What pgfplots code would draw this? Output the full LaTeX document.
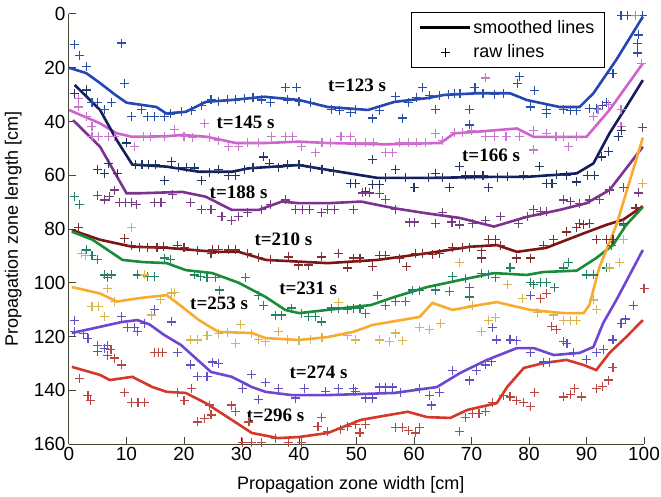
\documentclass[border=0pt]{standalone}
\usepackage{pgfplots}
\pgfplotsset{compat=1.18}
\usepackage{fontspec}
\setmainfont{Liberation Sans}
\newfontfamily\annfont{Liberation Serif}
\definecolor{axcol}{RGB}{70,70,55}
\definecolor{cA}{RGB}{35,70,180}
\definecolor{cB}{RGB}{205,100,205}
\definecolor{cC}{RGB}{20,30,95}
\definecolor{cD}{RGB}{125,50,145}
\definecolor{cE}{RGB}{125,20,20}
\definecolor{cF}{RGB}{25,140,55}
\definecolor{cG}{RGB}{250,170,45}
\definecolor{cH}{RGB}{110,70,210}
\definecolor{cI}{RGB}{215,55,40}
\definecolor{rA}{RGB}{40,80,170}
\definecolor{rB}{RGB}{200,120,200}
\definecolor{rC}{RGB}{30,55,100}
\definecolor{rD}{RGB}{120,60,130}
\definecolor{rE}{RGB}{130,45,45}
\definecolor{rF}{RGB}{35,130,100}
\definecolor{rG}{RGB}{215,180,80}
\definecolor{rH}{RGB}{95,80,195}
\definecolor{rI}{RGB}{185,70,65}
\pgfplotsset{
  mylinelegend/.style={legend image code/.code={\draw[##1] (0cm,0cm) -- (1.75cm,0cm);}},
  mymarklegend/.style={legend image code/.code={\draw[mark repeat=2,mark phase=2,##1] plot coordinates {(0cm,0cm) (0.875cm,0cm) (1.75cm,0cm)};}},
}
\begin{document}
\begin{tikzpicture}
\begin{axis}[
  scale only axis, width=575pt, height=430pt,
  xmin=0, xmax=100, ymin=0, ymax=160, y dir=reverse,
  axis x line*=bottom, axis y line*=left,
  axis line style={draw=axcol, line width=1pt},
  xtick={0,10,...,100}, ytick={0,20,...,160},
  tick align=inside, major tick length=7pt,
  tick style={draw=axcol, line width=1pt},
  ticklabel style={font=\fontsize{19}{22}\selectfont},
  /pgf/number format/assume math mode=true,
  xlabel={Propagation zone width [cm]},
  ylabel={Propagation zone length [cm]},
  label style={font=\fontsize{18}{21}\selectfont},
  xlabel style={at={(axis description cs:0.49,-0.095)}, anchor=center},
  ylabel style={at={(axis description cs:-0.097,0.5)}, anchor=center},
  raw/.style={only marks, mark=+, mark size=4.5pt, mark options={line width=1.1pt}, forget plot},
  sline/.style={line width=2.6pt, no marks, forget plot},
  legend style={at={(rel axis cs:0.932,1.005)}, anchor=north east, draw=black, line width=0.8pt,
    fill=white, font=\fontsize{18}{21}\selectfont, inner xsep=8pt, inner ysep=6pt, row sep=6pt,
    cells={anchor=west}},
]
% ---------- raw points ----------
\addplot[raw, color=rA] coordinates {(1,11.5) (1.9,15.3) (3.1,19.7) (9.2,10.8) (3,28) (9.7,25.7) (4,33) (4.9,33) (6.2,35.7) (7.4,33) (10.9,38.3) (12.6,35.7) (13.7,38.3) (14.9,38.3) (16.6,38.3) (17.7,37.2) (19.5,36.4) (21.3,36) (23,34) (24.7,32) (26,32.5) (27.5,32) (29,32) (30.5,31.5) (32,31) (33.5,32) (35,33) (37.6,27.5) (39.6,27.5) (38,32) (40,32.5) (42,33) (45.6,35.7) (47,36) (49,36.8) (49.9,35.7) (52.8,38.7) (54,36) (56.8,30.8) (58,38.7) (59,33) (60.5,31) (61.5,27.5) (62.7,30.4) (63.7,35.7) (64.5,30.4) (66,30) (67,29.5) (68,29.5) (69.6,35.7) (69.6,41.3) (70.6,27.2) (72,29.5) (74,30) (75.5,29.5) (78.4,23.4) (78,25.7) (81,28.3) (80.2,34.6) (83,35.7) (83,37) (86,35.7) (87.2,36) (88.3,36) (90.5,35) (91.7,35) (92.8,34) (93.4,33) (94.6,22) (98.9,14.5) (98.9,11) (99.1,7.8) (96,0.4) (97.2,0.4) (99.7,0.4)};
\addplot[raw, color=rB] coordinates {(1.6,31.6) (1.6,34.6) (3,38) (4,42) (4,45.7) (5.1,45.7) (6.8,45.7) (7.9,45.7) (11.4,49.4) (13,45.7) (14.2,45.7) (16.6,45.7) (18.3,43) (20,45.7) (21.5,46) (23.5,40.6) (24.4,46) (26,47) (27.8,49.4) (29.5,49.4) (31,48) (33,48) (35.2,45.7) (37.6,45.7) (38.8,45.7) (40.4,49.4) (42.8,51.7) (44,48) (45.5,48) (47.3,45.7) (49,45.7) (49.9,48) (51.5,48) (53,48) (55.1,51.7) (56.3,51.7) (57.5,48) (59,48) (60.5,48) (62,48) (63.7,44.3) (65,47) (67,44) (68.5,44) (70,43.5) (72.4,45.7) (74,45.7) (76,45.7) (78.4,45.7) (80.8,43.2) (80.8,50.6) (83,44.4) (84.7,45.7) (86,45.7) (86.9,49.4) (88.3,45.7) (91.2,38.3) (92,35.7) (93.8,33.8) (96,42) (96,35.7) (99.5,18.4) (98.5,0.4) (72.4,23.8)};
\addplot[raw, color=rC] coordinates {(1,29.5) (3.1,28.3) (5,58) (6.2,59.3) (6.8,55.6) (8.5,59.3) (10,48) (11.5,56) (12.7,56) (13.9,56) (15,56) (16.6,61.8) (17.8,55) (19,57) (20.5,57) (21.8,57.3) (23,61.8) (24.4,59) (26,58) (27.8,60) (29,60) (30.5,58) (32,57) (33.9,53.2) (34.8,55.5) (36.5,57) (38,56) (40,56) (42,57) (44,58) (46,58.5) (49,63) (49.9,63) (51.6,66.2) (52.8,54.3) (52.8,63.5) (54,63.5) (55.1,61) (56.8,58) (58.5,61) (60,64.7) (62.5,61) (63.7,59.3) (65,61) (66.1,64.7) (67.9,56.9) (69,60) (70.5,60) (72,60) (73,64.7) (74.5,61) (76.2,60.6) (79,60) (81.9,56.9) (83,63) (84,63) (84.8,59.6) (86.5,60) (88.3,62.5) (90.2,60) (91.4,60) (92.6,53.2) (93.8,51) (95.5,45.7) (96.1,43.5)};
\addplot[raw, color=rD] coordinates {(5,67.4) (6.2,69.2) (7,68) (7.9,65.5) (8.8,70) (9.8,70) (10.9,70) (11.7,71) (14.9,70) (16,70) (18,67) (21.2,70) (23,72.9) (24.7,72.9) (26.6,75.5) (28.3,76.7) (29.5,75.5) (31,74) (33.5,72.9) (35,71) (37.6,69.2) (39.4,72.9) (40.6,72.9) (41.8,72.9) (43.9,74) (45,72.9) (46.2,72.9) (49.4,72.9) (51.1,66.6) (52.3,66.6) (54,66.8) (55.1,68.9) (56.8,72.9) (59.2,77.4) (60.1,77.4) (63.8,77.8) (64.9,73.7) (66.6,77.4) (67.9,78.5) (70.2,77.8) (72.5,77) (75,75.5) (78.1,77.8) (79.8,75.5) (80.8,72.9) (82,73.4) (83,73.4) (86,69.2) (87.2,69.7) (88.8,70.4) (90.5,69.2) (92.2,68.9) (94,65.5) (96.4,64.7) (99.1,66.6) (99.8,42.4)};
\addplot[raw, color=rE] coordinates {(1.6,79.3) (9.7,83.4) (10.9,86) (12.2,87) (13.6,87) (15.3,87) (16.5,86.5) (18.8,86) (20,87) (22.3,88) (24.7,89) (24.9,87.8) (26,87.5) (27.8,87.8) (29,87.8) (31,89) (33,90.5) (35,91.5) (38.2,90.4) (39.9,93.4) (41.6,93.4) (43.9,90.4) (46.8,89) (48.5,94.5) (49.4,90.8) (50.6,90.8) (52.8,94.1) (54,90) (55.1,90) (57.5,90.8) (58.7,94) (60.3,89) (61.5,89) (63.2,89.5) (64.4,89) (66.7,87) (68.4,87) (69.6,87) (71.8,90.8) (71.8,88) (73,84) (74.2,84) (75,86) (77.9,90.8) (80.2,90.8) (82.5,86) (84.3,84) (86.5,81.1) (88.3,79.6) (88.8,77.8) (89.5,78.4) (90.5,77.8) (91.7,84) (93.4,84) (94.6,84) (96.4,77.8) (98.6,72.2)};
\addplot[raw, color=rF] coordinates {(1,68) (1.9,71) (3.1,87.8) (4,89.7) (5,91.5) (6.2,97.1) (6.7,98) (7.4,97.1) (11.9,97.1) (13.6,97.8) (14.8,97.8) (16.6,90.8) (17.7,91.5) (21.8,97.1) (22.9,97.8) (24,98) (25.5,98.2) (26.1,102.7) (30.7,98.2) (33,104.6) (33.9,108.3) (35.9,112) (37,112) (38.7,109.4) (40.4,111.5) (41.6,112.7) (42.8,112.7) (43.9,114.6) (45.6,109.4) (46.8,109.4) (48.5,110) (49.4,109.4) (50.6,109.4) (51.6,111.3) (53.7,104.6) (55.1,108.3) (56.8,107.1) (58.5,107.1) (59.8,102.7) (61,103) (63.7,102.7) (66.2,103.4) (66.7,97.8) (69,98.5) (69.6,101.6) (69.6,105.3) (71.8,96.4) (73,97) (74.2,98) (76.7,94.5) (80.2,99.8) (80.8,100.8) (82,99.8) (83,99.8) (84.5,101.6) (86,94.5) (86.9,92.3) (90,97.1) (91.2,97.1) (93.4,94.5) (94.3,86) (96.4,78.5)};
\addplot[raw, color=rG] coordinates {(2.2,89) (2.8,90) (10.9,79.3) (4,109) (5.1,109) (6.2,112.7) (6.7,102) (7.9,107.1) (13.1,97.1) (14.3,112) (15.9,106.3) (17.8,103.8) (18.4,103.5) (21.2,121.3) (22.4,121.3) (24,119.5) (26,119) (27.5,118.5) (29,122.5) (29.9,115.7) (31.8,119) (33,121) (34.2,122) (36.5,118) (38,121) (40,121.5) (42,121) (44,120.5) (46.8,107.2) (48.5,119.5) (49.9,121.3) (54,121.3) (55.8,122) (56.8,118.7) (58,121.5) (61,116.8) (62.7,117.5) (64.6,115) (67.9,92.3) (70.1,108.3) (71.8,118.3) (73,113.9) (74.2,112.8) (76.2,100.8) (78.8,105.7) (81.5,111) (84.3,112) (86,114) (87.2,114) (88.3,114) (91.2,106.4) (91.8,110) (94,94.5) (95.7,92.3) (96.5,84) (99.8,63)};
\addplot[raw, color=rH] coordinates {(1,113.9) (1,118) (2.5,119) (3.3,120.6) (5,123.2) (5,125.6) (6.1,124.5) (6.7,127) (9.2,112.7) (10.2,116.8) (11.4,116.8) (11.9,118.3) (13.1,115) (14.9,110.1) (17.8,114.6) (18.8,125.8) (21.2,130.6) (22.3,135) (24,135) (24.9,129.5) (26,130) (30.1,139.2) (31.8,134.3) (33,143.4) (34.2,137) (36.4,139.2) (39.4,142.9) (41,139.2) (44.6,140.6) (46.8,139.2) (49.4,139.2) (49.9,140.6) (51.6,142.9) (52.8,142.9) (54,138.8) (55.1,138.8) (56.3,138.8) (57.6,141) (61,139.2) (62.7,141.8) (63,145.5) (64.4,141) (66.7,132.5) (69.6,136.2) (70.8,132.5) (72.4,130.6) (73.5,129.4) (73.6,116.8) (74.3,121.3) (76.7,121.3) (77.9,121.5) (80.2,125.8) (82.5,129.5) (83.6,129.5) (86,122) (86.6,122.5) (87.7,125.8) (90,128.7) (91.7,125.8) (92.9,125) (94.6,121.3) (96,115) (96.8,113.5) (98.1,108.3) (80.2,104.6)};
\addplot[raw, color=rI] coordinates {(1.9,135.5) (3.3,141.8) (3.8,143.7) (6.7,123.2) (7.3,125) (7.9,128) (9.2,130.6) (9.7,141) (10.9,144.4) (12,144.6) (13.1,144.4) (14.9,125.8) (15.6,125.8) (16.3,125.8) (18.8,141) (20,143.7) (21.3,139.5) (22.3,151.8) (23.5,150.5) (24.7,149.2) (24.4,145.5) (28.3,145.5) (29,148) (31.3,151.8) (30.1,159.3) (31.8,159.3) (33.5,159.3) (35.9,157.8) (38.2,159.3) (40.4,159.3) (43.9,150.3) (43.3,153.5) (45,155.5) (47.2,154.5) (48.5,153.5) (49.9,152.9) (51.6,152.9) (50.6,155.9) (56.8,153.7) (58,153.7) (59.1,155) (60.3,155.9) (61,153.7) (67.9,155.5) (68.9,150.3) (70.1,148.5) (71.3,148.5) (72.4,148) (73.6,144.4) (75.6,141.8) (76.7,142.5) (77.9,143.7) (79.1,144.7) (80.2,146.2) (81,141) (82,106) (83,104) (83.9,116.4) (84.8,117.5) (86,142.5) (87.2,141.5) (87.9,139.2) (89.1,142.5) (91.7,139.2) (92.8,138.5) (93.8,136.2) (94.6,131.7) (100,102)};
% ---------- smoothed lines ----------
\addplot[sline, color=cA] coordinates {(0,20) (3,22) (5.4,25.7) (8,30) (10,33) (15.2,34.6) (16.9,37) (20.3,36.4) (23.8,32.7) (28.3,32) (34,30.8) (40,32) (45,34.6) (52,35.7) (56.6,32.7) (62.3,31.3) (65.3,30.1) (71,29.5) (76.7,29.5) (79.6,32) (85.3,34.6) (88.8,34.6) (91.2,29.5) (95.2,17) (99.8,1)};
\addplot[sline, color=cB] coordinates {(0,35.7) (5.4,40.7) (8.3,44.4) (11,45.7) (17,45.5) (19.7,45) (24,45.7) (29,48) (34.2,48) (40,47.5) (45,48) (55,48.5) (64.6,48) (67,44.4) (71,43.8) (77.9,42.6) (80.8,45.7) (90,45.7) (94,35.7) (99.8,18.4)};
\addplot[sline, color=cC] coordinates {(1,26.4) (5.4,35.7) (8.3,46.9) (11,56) (17,56.8) (22.6,58.7) (28.3,58.7) (31.3,57.4) (35,56.9) (40,56.2) (45,58) (53.7,61) (62.3,61) (73.9,60.6) (79.6,60.6) (88.3,59.3) (91.2,55.6) (94,44.4) (96.9,34.6) (99.8,24.6)};
\addplot[sline, color=cD] coordinates {(0.7,39.5) (5.4,49.4) (10,66.7) (12.3,66.7) (19.7,66.2) (23.8,68) (28.3,72.9) (33,72.9) (37,69.8) (40,70.4) (45,70.4) (50.8,69.8) (56.6,72.3) (62.3,74.2) (68,75.9) (73.9,79.1) (79.6,75.5) (85.3,72.9) (90,70.4) (94,65.5) (99.8,49.4)};
\addplot[sline, color=cE] coordinates {(0.5,80.4) (5.4,84) (11,86.6) (17,87) (25.5,88.5) (29.5,88.5) (34.2,91.5) (45,92.7) (53.7,91.5) (62.3,89) (69.8,86.6) (74.4,86) (77.9,88.5) (83,87) (88.8,82.2) (93.4,78.5) (96.4,76.5) (99.8,71.5)};
\addplot[sline, color=cF] coordinates {(0.5,81) (4.1,84) (9.3,91.5) (12.8,92.3) (17,92.7) (20.3,95.3) (24.9,96.4) (29.5,100) (34.2,105.3) (37.6,110.1) (40,111.3) (45,110.1) (52.5,108.3) (56.6,105.3) (62.3,101.6) (68,99) (73.9,96.4) (79.6,97.1) (82.5,96) (88.3,95.5) (91.7,90.8) (94.6,86) (96.9,78.5) (99.8,71.8)};
\addplot[sline, color=cG] coordinates {(0.5,101.6) (5.4,104) (8.3,107) (12.3,105.7) (17,104.6) (19.7,109) (22.6,113.9) (26,118.3) (31.8,118.7) (34.2,120.6) (40,121.3) (45,120.2) (49.4,118.3) (52.8,115.7) (61,112.7) (63.2,107.5) (66.7,110.1) (71.3,108.3) (74.4,107.2) (80.2,110.1) (86,111.3) (89.5,111.3) (90.5,108.3) (92.2,94.5) (95.2,78.5) (99.8,46)};
\addplot[sline, color=cH] coordinates {(0.5,118.7) (5.4,116.4) (9.2,114.6) (11.9,113.9) (14,115.5) (16.6,119.5) (19.5,123.2) (24.7,133.2) (28.3,135) (31.8,138.8) (34.2,140.6) (38.7,141.8) (45,141.8) (56.6,141) (64,138.8) (68,133.6) (72.7,128.7) (77.9,124.3) (80.8,124.3) (84.3,126.9) (88.8,126.1) (91.2,123.9) (92.9,115) (95.2,106.4) (99.8,87.8)};
\addplot[sline, color=cI] coordinates {(0.5,131.3) (5.4,134.3) (7.1,136.2) (11,135) (14.5,138.8) (17,140.6) (20.3,141) (23.8,144.8) (28.3,151) (31.8,155.9) (36.4,157.8) (40,157.4) (45,155.9) (50.8,151) (58.9,148) (62.3,150) (66.3,150.3) (69.3,147.3) (74.4,144.8) (76.2,138.8) (79.1,131.7) (82.5,129.9) (86.5,128.7) (89.5,130.6) (91.7,132.5) (94,126.1) (96.9,120.2) (99.8,113.9)};
% ---------- legend ----------
\addlegendimage{black, line width=2.6pt, mylinelegend}
\addlegendentry{smoothed lines}
\addlegendimage{black, only marks, mark=+, mark size=4.5pt, mark options={line width=1.1pt}, mymarklegend}
\addlegendentry{raw lines}
% ---------- annotations ----------
\begin{scope}[every node/.style={font=\annfont\bfseries\fontsize{19}{21}\selectfont}]
\node at (axis cs:50.1,26.4) {t=123 s};
\node at (axis cs:30.7,40.2) {t=145 s};
\node at (axis cs:73.4,52.5) {t=166 s};
\node at (axis cs:29.5,66.2) {t=188 s};
\node at (axis cs:37.3,84) {t=210 s};
\node at (axis cs:41.6,102) {t=231 s};
\node at (axis cs:26.1,107.5) {t=253 s};
\node at (axis cs:43.4,133.2) {t=274 s};
\node at (axis cs:35.9,149.2) {t=296 s};
\end{scope}
\end{axis}
\pgfresetboundingbox
\path[use as bounding box] ([xshift=-69pt,yshift=-53pt]current axis.south west) rectangle ([xshift=17pt,yshift=14pt]current axis.north east);
\end{tikzpicture}
\end{document}
